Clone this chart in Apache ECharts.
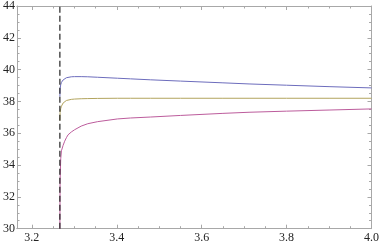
<!DOCTYPE html>
<html><head><meta charset="utf-8">
<script src="https://cdn.jsdelivr.net/npm/echarts@6/dist/echarts.min.js"></script>
<style>html,body{margin:0;padding:0;background:#fff}#c{width:382px;height:244px}</style>
</head><body><div id="c"></div>
<script>
const xs = [3.266, 3.2665, 3.268, 3.2697, 3.2736, 3.2773, 3.2813, 3.2852, 3.2929, 3.3006, 3.3162, 3.3317, 3.355, 3.4015, 3.4324, 3.479, 3.55, 3.65, 3.7115, 3.8, 3.9, 4.0];
const blueVals = [38.3, 38.8, 39.05, 39.2, 39.35, 39.44, 39.49, 39.52, 39.55, 39.56, 39.56, 39.55, 39.52, 39.46, 39.42, 39.36, 39.28, 39.17, 39.1, 39.02, 38.93, 38.85];
const oliveVals = [36.8, 37.3, 37.55, 37.7, 37.9, 38.0, 38.06, 38.1, 38.13, 38.15, 38.17, 38.18, 38.19, 38.2, 38.2, 38.2, 38.2, 38.2, 38.2, 38.2, 38.2, 38.2];
const magentaVals = [30, 33.0, 34.4, 34.9, 35.24, 35.5, 35.72, 35.9, 36.08, 36.22, 36.45, 36.6, 36.73, 36.9, 36.96, 37.02, 37.12, 37.25, 37.32, 37.39, 37.46, 37.53];
const asymptoteX = [3.266];
const xRange = [3.165, 4.0];
const yRange = [30, 44];

const frameColor = '#a8a8a8';
const font = 'Times New Roman';
const pair = (vals) => xs.map((x, i) => [x, vals[i]]);
const isMult = (v, step) => Math.abs(v / step - Math.round(v / step)) < 1e-6;

function xAx(pos, step, len, labels) {
  return {
    type: 'value', position: pos, min: xRange[0], max: xRange[1],
    minInterval: step, maxInterval: step, splitNumber: Math.round((xRange[1]-xRange[0])/step),
    axisLine: {show: true, onZero: false, lineStyle: {color: frameColor, width: 1}},
    axisTick: {show: true, inside: true, length: len, lineStyle: {color: frameColor}},
    splitLine: {show: false},
    axisLabel: labels ? {show: true, margin: 3, color: '#222', fontFamily: font, fontSize: 12,
      formatter: v => isMult(v, 0.2) ? v.toFixed(1) : ''} : {show: false}
  };
}
function yAx(pos, labels) {
  return {
    type: 'value', position: pos, min: yRange[0], max: yRange[1], interval: 2,
    axisLine: {show: true, onZero: false, lineStyle: {color: frameColor, width: 1}},
    axisTick: {show: true, inside: true, length: 4, lineStyle: {color: frameColor}},
    minorTick: {show: true, splitNumber: 4, length: 2.5, lineStyle: {color: frameColor}},
    splitLine: {show: false}, minorSplitLine: {show: false},
    axisLabel: labels ? {show: true, margin: 2, color: '#222', fontFamily: font, fontSize: 12} : {show: false}
  };
}
const line = (vals, color) => ({
  type: 'line', data: pair(vals), xAxisIndex: 0, yAxisIndex: 0, showSymbol: false, symbol: 'none',
  lineStyle: {color, width: 1}, clip: true, animation: false
});

const chart = echarts.init(document.getElementById('c'));
chart.setOption({
  animation: false,
  textStyle: {fontFamily: font},
  grid: {left: 15, right: 8, top: 5, bottom: 15.3},
  xAxis: [xAx('bottom', 0.2, 4, true), xAx('bottom', 0.05, 2.5, false), xAx('top', 0.2, 4, false), xAx('top', 0.05, 2.5, false)],
  yAxis: [yAx('left', true), yAx('right', false)],
  series: [
    line(blueVals, '#6c6cbc'),
    line(magentaVals, '#bc5c9c'),
    line(oliveVals, '#b2a45e'),
    {type: 'line', data: [[asymptoteX[0], yRange[0]], [asymptoteX[0], yRange[1]]], showSymbol: false, symbol: 'none',
     lineStyle: {color: '#222', width: 1.2, type: [6, 3]}, animation: false}
  ]
});
</script></body></html>
